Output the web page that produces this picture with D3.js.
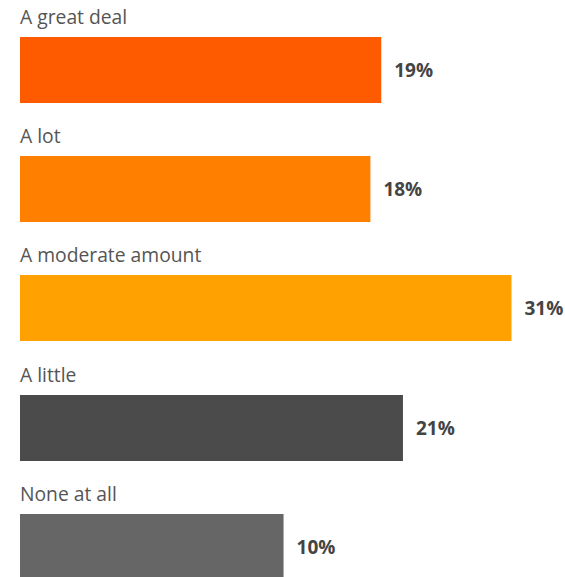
<!DOCTYPE html>
<html>
<head>
<meta charset="utf-8">
<script src="https://cdn.jsdelivr.net/npm/d3@7"></script>
<style>
  html, body { margin: 0; padding: 0; background: #fff; }
  svg { display: block; }
</style>
</head>
<body>
<svg id="chart" width="565" height="577"></svg>
<script>
// Survey responses and their shares (percent)
const categories = ["A great deal", "A lot", "A moderate amount", "A little", "None at all"];
const values = [19, 18, 31, 21, 10];
const colors = ["#fe5a00", "#ff7f00", "#ffa100", "#4b4b4b", "#666666"];

const svg = d3.select("#chart");
const left = 20;

// Bar length scale
const x = d3.scaleLinear().domain([0, 31]).range([155, 491.5]);

// Row positions
const y = d3.scaleBand()
  .domain(categories)
  .range([37, 37 + 119.2 * categories.length])
  .paddingInner(0);

const barH = 66;

const rows = svg.selectAll("g.row")
  .data(categories.map((c, i) => ({ c, v: values[i], col: colors[i] })))
  .join("g")
  .attr("class", "row")
  .attr("transform", d => `translate(0,${Math.round(y(d.c))})`);

rows.append("rect")
  .attr("x", left)
  .attr("y", 0)
  .attr("width", d => x(d.v))
  .attr("height", barH)
  .attr("fill", d => d.col);

rows.append("text")
  .attr("x", left)
  .attr("y", -13.5)
  .attr("font-family", "'Open Sans', sans-serif")
  .attr("font-size", 19.3)
  .attr("fill", "#555")
  .text(d => d.c);

rows.append("text")
  .attr("x", d => left + x(d.v) + 13)
  .attr("y", barH / 2)
  .attr("dy", "0.35em")
  .attr("font-family", "'Open Sans', sans-serif")
  .attr("font-weight", 700)
  .attr("font-size", 19)
  .attr("fill", "#444")
  .text(d => d.v + "%");
</script>
</body>
</html>
